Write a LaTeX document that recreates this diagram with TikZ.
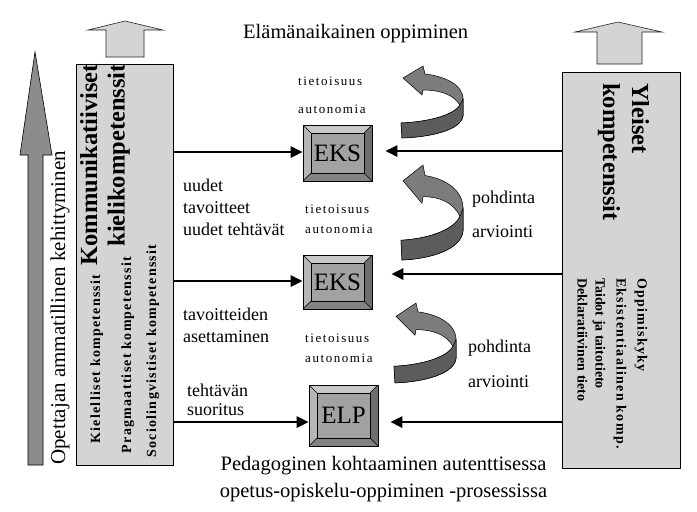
\documentclass[tikz,border=0pt]{standalone}
\usepackage{fontspec}
\setmainfont{Liberation Serif}
\newfontfamily\spcA[LetterSpace=9]{Liberation Serif}
\newfontfamily\spcB[LetterSpace=12]{Liberation Serif}
\usetikzlibrary{arrows.meta,calc}
\definecolor{boxgray}{RGB}{212,212,212}
\definecolor{bigarrow}{RGB}{140,140,140}
\definecolor{bevTop}{RGB}{200,200,200}
\definecolor{bevLeft}{RGB}{182,182,182}
\definecolor{bevRight}{RGB}{110,110,110}
\definecolor{bevBot}{RGB}{130,130,130}
\definecolor{bevFace}{RGB}{162,162,162}
\definecolor{curveA}{RGB}{124,124,124}
\definecolor{curveB}{RGB}{92,92,92}
\tikzset{
 sidebox/.style={draw=black, line width=0.8pt, fill=boxgray, inner sep=0pt},
 upar/.style={draw=black!85, line width=0.6pt, fill=boxgray},
 conn/.style={line width=2.6pt, -{Triangle[length=12pt,width=11pt]}},
 lbl/.style={font=\fontsize{18}{20}\selectfont, anchor=base west, inner sep=0pt},
 smalllbl/.style={font=\spcB\fontsize{13}{15}\selectfont, anchor=base west, inner sep=0pt},
 bigtxt/.style={font=\fontsize{21}{24}\selectfont, inner sep=0pt},
 headtxt/.style={font=\bfseries\fontsize{24.5}{26}\selectfont, inner sep=0pt},
 comptxt/.style={font=\spcA\bfseries\fontsize{14}{16}\selectfont, inner sep=0pt},
 bevelbox/.style={draw=black, line width=0.6pt, inner sep=0pt,
   minimum width=69pt, minimum height=56pt,
   font=\fontsize{25}{25}\selectfont,
   path picture={
     \coordinate (bNW) at (path picture bounding box.north west);
     \coordinate (bNE) at (path picture bounding box.north east);
     \coordinate (bSW) at (path picture bounding box.south west);
     \coordinate (bSE) at (path picture bounding box.south east);
     \coordinate (iNW) at ($(bNW)+(8,8)$);
     \coordinate (iNE) at ($(bNE)+(-8,8)$);
     \coordinate (iSW) at ($(bSW)+(8,-8)$);
     \coordinate (iSE) at ($(bSE)+(-8,-8)$);
     \fill[bevTop] (bNW)--(bNE)--(iNE)--(iNW)--cycle;
     \fill[bevLeft] (bNW)--(iNW)--(iSW)--(bSW)--cycle;
     \fill[bevRight] (bNE)--(bSE)--(iSE)--(iNE)--cycle;
     \fill[bevBot] (bSW)--(iSW)--(iSE)--(bSE)--cycle;
     \draw[line width=0.6pt, fill=bevFace] (iNW) rectangle (iSE);
     \draw[line width=0.4pt] (bNW)--(iNW) (bNE)--(iNE) (bSW)--(iSW) (bSE)--(iSE);
   }},
 curvearrow/.pic={
   \fill[curveA, draw=black, line width=0.5pt] (2,12) -- (22,0) -- (24,8)
     .. controls (42,10) and (62,18) .. (62,33) -- (62,50)
     .. controls (60,64) and (30,71) .. (1,72) -- (0,57)
     .. controls (25,56) and (52,50) .. (59,39)
     .. controls (52,28) and (38,24) .. (22,24) -- (21,29) -- cycle;
   \fill[curveB, draw=black, line width=0.5pt] (62,33) -- (62,50)
     .. controls (60,64) and (30,71) .. (1,72) -- (0,57)
     .. controls (25,56) and (52,50) .. (59,39) -- cycle;
 }
}
\begin{document}
\begin{tikzpicture}[x=1pt,y=-1pt]
\fill[white] (0,0) rectangle (697,512);
\useasboundingbox (0,0) rectangle (697,512);

% big left arrow
\draw[fill=bigarrow, line width=0.6pt] (28,465) -- (43,465) -- (43,155) -- (52,155) -- (35,52) -- (20,155) -- (28,155) -- cycle;
\node[bigtxt, rotate=90, anchor=base west] (dev) at (65,465) {Opettajan ammatillinen kehittyminen};

% up arrows
\draw[upar] (106,57) -- (106,30) -- (88,30) -- (125,21) -- (163,30) -- (144,30) -- (144,57) -- cycle;
\draw[upar] (597,64) -- (597,32) -- (575,32) -- (618,22) -- (662,32) -- (642,32) -- (642,64) -- cycle;

% side boxes
\node[sidebox, minimum width=97pt, minimum height=401pt] (lbox) at (124.5,264.5) {};
\node[sidebox, minimum width=118pt, minimum height=396pt] (rbox) at (621,270) {};

% left box texts
\node[headtxt, rotate=90, anchor=base east] (komm) at (97,64) {Kommunikatiiviset};
\node[headtxt, rotate=90, anchor=base east] (kieli) at (124.5,64) {kielikompetenssit};
\node[comptxt, rotate=90, anchor=base] (kiel) at (100,359) {Kielelliset kompetenssit};
\node[comptxt, rotate=90, anchor=base] (prag) at (131,355) {Pragmaattiset kompetenssit};
\node[comptxt, rotate=90, anchor=base] (sosio) at (156,351) {Sociolingvistiset kompetenssit};

% right box texts
\node[headtxt, rotate=-90, anchor=base west] (yl) at (632,83) {Yleiset};
\node[headtxt, rotate=-90, anchor=base west] (komp) at (603,83) {kompetenssit};
\node[comptxt, rotate=-90, anchor=base west] (opp) at (637.5,278) {Oppimiskyky};
\node[comptxt, rotate=-90, anchor=base west] (eksi) at (616.5,278) {Eksistentiaalinen komp.};
\node[comptxt, rotate=-90, anchor=base west, font=\bfseries\fontsize{14}{16}\selectfont] (taid) at (595.5,278) {Taidot ja taitotieto};
\node[comptxt, rotate=-90, anchor=base west, font=\bfseries\fontsize{14}{16}\selectfont] (dekl) at (577.5,278) {Deklaratiivinen tieto};

% title and bottom text
\node[bigtxt, anchor=base west, font=\fontsize{20.5}{24}\selectfont] (title) at (243,38) {Elämänaikainen oppiminen};
\node[bigtxt, anchor=base, font=\fontsize{20.5}{24}\selectfont] (bot1) at (383.5,470) {Pedagoginen kohtaaminen autenttisessa};
\node[bigtxt, anchor=base, font=\fontsize{20.5}{24}\selectfont] (bot2) at (383.5,497) {opetus-opiskelu-oppiminen -prosessissa};

% bevel boxes
\node[bevelbox] (eks1) at (337.5,153) {EKS};
\node[bevelbox, minimum height=54pt] (eks2) at (337.5,282) {EKS};
\node[bevelbox, minimum height=61pt] (elp) at (343.5,415.5) {ELP};

% small labels
\node[smalllbl] (t1) at (298,85) {tietoisuus};
\node[smalllbl] (a1) at (298,113) {autonomia};
\node[smalllbl] (t2) at (305,213) {tietoisuus};
\node[smalllbl] (a2) at (305,233) {autonomia};
\node[smalllbl] (t3) at (305,342) {tietoisuus};
\node[smalllbl] (a3) at (305,362) {autonomia};

% left labels
\node[lbl] (u1) at (183,191) {uudet};
\node[lbl] (u2) at (183,213) {tavoitteet};
\node[lbl] (u3) at (183,235) {uudet tehtävät};
\node[lbl] (ta1) at (183,320) {tavoitteiden};
\node[lbl] (ta2) at (183,342) {asettaminen};
\node[lbl] (te1) at (187,396) {tehtävän};
\node[lbl] (te2) at (187,415) {suoritus};

% right labels
\node[lbl] (p1) at (472,203) {pohdinta};
\node[lbl] (ar1) at (472,237) {arviointi};
\node[lbl] (p2) at (468,352) {pohdinta};
\node[lbl] (ar2) at (468,387) {arviointi};

% connectors
\coordinate (l1) at ($(eks1.west)+(0,-1)$);
\coordinate (r1) at ($(eks1.east)+(13,-2)$);
\coordinate (l2) at ($(eks2.west)+(0,-1)$);
\coordinate (r2) at ($(eks2.east)+(19,-8)$);
\coordinate (l3) at ($(elp.west)+(0,6.5)$);
\coordinate (r3) at ($(elp.east)+(12,6.5)$);
\draw[conn] (lbox.east |- l1) -- (l1);
\draw[conn] (rbox.west |- r1) -- (r1);
\draw[conn] (lbox.east |- l2) -- (l2);
\draw[conn] (rbox.west |- r2) -- (r2);
\draw[conn] (lbox.east |- l3) -- (l3);
\draw[conn] (rbox.west |- r3) -- (r3);

% curved arrows
\pic at (401,66) {curvearrow};
\pic[yscale=1.32] at (401,165) {curvearrow};
\pic[yscale=1.11] at (394,303) {curvearrow};
\end{tikzpicture}
\end{document}
